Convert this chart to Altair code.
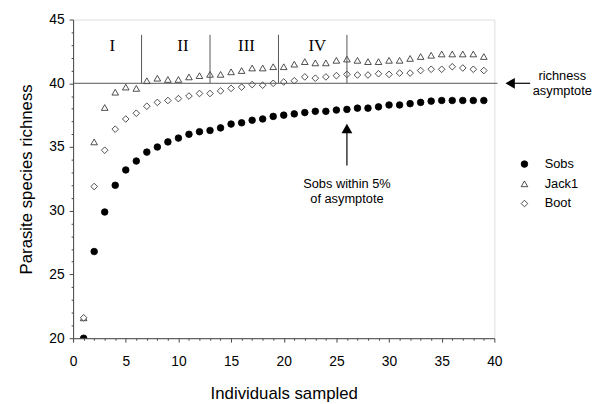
import altair as alt
import pandas as pd

samples = list(range(1, 40))
sobs = [20.0, 26.8, 29.9, 32.0, 33.2, 33.9, 34.6, 35.0, 35.4, 35.7,
        36.0, 36.2, 36.3, 36.5, 36.8, 36.9, 37.1, 37.2, 37.4, 37.5,
        37.6, 37.7, 37.8, 37.8, 37.9, 37.95, 38.05, 38.05, 38.15, 38.3,
        38.3, 38.4, 38.5, 38.6, 38.65, 38.65, 38.65, 38.65, 38.65]
jack1 = [21.6, 35.4, 38.1, 39.3, 39.7, 39.6, 40.2, 40.4, 40.3, 40.3,
         40.5, 40.6, 40.7, 40.7, 40.9, 41.0, 41.2, 41.2, 41.3, 41.3,
         41.5, 41.7, 41.6, 41.6, 41.8, 41.9, 41.8, 41.7, 41.7, 41.8,
         41.8, 41.95, 42.1, 42.2, 42.3, 42.3, 42.3, 42.3, 42.1]
boot = [21.6, 31.9, 34.75, 36.4, 37.2, 37.65, 38.2, 38.5, 38.65, 38.8,
        39.0, 39.2, 39.2, 39.4, 39.6, 39.7, 39.9, 39.85, 40.0, 40.1,
        40.2, 40.5, 40.4, 40.5, 40.6, 40.7, 40.65, 40.65, 40.75, 40.7,
        40.8, 40.8, 41.0, 41.1, 41.1, 41.3, 41.2, 41.1, 41.0]
series_names = ["Sobs", "Jack1", "Boot"]

asymptote = 40
phase_bounds = [6.5, 13, 19.5, 26]
phase_labels = ["I", "II", "III", "IV"]
phase_label_x = [3.72, 10.43, 16.46, 23.18]

rows = []
for name, vals in zip(series_names, [sobs, jack1, boot]):
    for s, v in zip(samples, vals):
        rows.append({"x": s, "y": v, "series": name})
df = pd.DataFrame(rows)

SANS = "Liberation Sans"
xscale = alt.Scale(domain=[0, 40], nice=False, zero=False)
yscale = alt.Scale(domain=[20, 45], nice=False, zero=False)

major5 = "datum.value % 5 === 0"
common_axis = dict(labelExpr=f"{major5} ? datum.label : ''",
                   tickSize={"condition": {"test": major5, "value": 4}, "value": 2},
                   grid=False, labelOverlap=False, labelFlush=False,
                   domainColor="#444", tickColor="#444", labelFont=SANS, labelFontSize=14,
                   labelColor="black", titleFont=SANS, titleFontSize=17, titleFontWeight="normal",
                   titleColor="black")
xaxis = alt.Axis(values=list(range(0, 41)), title="Individuals sampled",
                 labelPadding=13, titlePadding=17, **common_axis)
yaxis = alt.Axis(values=list(range(20, 46)), title="Parasite species richness",
                 labelPadding=5, titlePadding=14, **common_axis)


def X(f="x"):
    return alt.X(f"{f}:Q", scale=xscale, axis=xaxis)


def Y(f="y"):
    return alt.Y(f"{f}:Q", scale=yscale, axis=yaxis)


leg = alt.Legend(title=None, orient="none", legendX=451, legendY=140,
                 labelFont=SANS, labelFontSize=13, labelColor="black",
                 symbolStrokeWidth=0.8, symbolSize=45, rowPadding=6, labelOffset=14)

points = alt.Chart(df).mark_point(strokeWidth=0.8, opacity=1, fillOpacity=1, strokeOpacity=1,
                                   size=45, clip=True).encode(
    x=X(), y=Y(),
    shape=alt.Shape("series:N", scale=alt.Scale(domain=series_names,
                                                range=["circle", "triangle-up", "diamond"]),
                    legend=leg),
    fill=alt.Fill("series:N", scale=alt.Scale(domain=series_names,
                                              range=["black", "white", "white"]), legend=leg),
    stroke=alt.Stroke("series:N", scale=alt.Scale(domain=series_names,
                                                  range=["black", "#222", "#222"]), legend=leg),
)

hline = alt.Chart(pd.DataFrame({"x": [0], "x2": [40.3], "y": [asymptote]})).mark_rule(
    color="#555", strokeWidth=1).encode(x=X(), x2="x2:Q", y=Y())

dividers = alt.Chart(pd.DataFrame({"x": phase_bounds, "y": [asymptote] * 4,
                                   "y2": [43.8] * 4})).mark_rule(
    color="#555", strokeWidth=1).encode(x=X(), y=Y(), y2="y2:Q")

numerals = alt.Chart(pd.DataFrame({"x": phase_label_x, "y": [42.9] * 4,
                                   "t": phase_labels})).mark_text(
    font="Liberation Serif", fontSize=17, color="black", baseline="middle").encode(
    x=X(), y=Y(), text="t:N")

# asymptote arrow
asy_shaft = alt.Chart(pd.DataFrame({"x": [41.7], "x2": [43.4], "y": [asymptote]})).mark_rule(
    color="black", strokeWidth=1.2).encode(x=X(), x2="x2:Q", y=Y())
asy_head = alt.Chart(pd.DataFrame({"x": [41.5], "y": [asymptote]})).mark_point(
    shape="triangle-left", filled=True, color="black", opacity=1, size=120).encode(x=X(), y=Y())
asy_text = alt.Chart(pd.DataFrame({"x": [46.45, 46.45], "y": [40.6, 39.43],
                                   "t": ["richness", "asymptote"]})).mark_text(
    font=SANS, fontSize=13, color="black", baseline="middle").encode(x=X(), y=Y(), text="t:N")

# Sobs within 5% arrow
sob_shaft = alt.Chart(pd.DataFrame({"x": [26], "y": [36.3], "y2": [33.55]})).mark_rule(
    color="black", strokeWidth=1.2).encode(x=X(), y=Y(), y2="y2:Q")
sob_head = alt.Chart(pd.DataFrame({"x": [26], "y": [36.45]})).mark_point(
    shape="triangle-up", filled=True, color="black", opacity=1, size=120).encode(x=X(), y=Y())
sob_text = alt.Chart(pd.DataFrame({"x": [26, 26], "y": [32.13, 30.9],
                                   "t": ["Sobs within 5%", "of asymptote"]})).mark_text(
    font=SANS, fontSize=13, color="black", baseline="middle").encode(x=X(), y=Y(), text="t:N")

chart = alt.layer(points, hline, dividers, numerals, asy_shaft, asy_head, asy_text,
                  sob_shaft, sob_head, sob_text).properties(
    width=427, height=323,
    autosize=alt.AutoSizeParams(type="none"),
    padding={"left": 66, "top": 9, "right": 101, "bottom": 66},
).configure_view(stroke=None).configure(background="white")

chart.save("out.html", embed_options={"renderer": "svg", "actions": False})
